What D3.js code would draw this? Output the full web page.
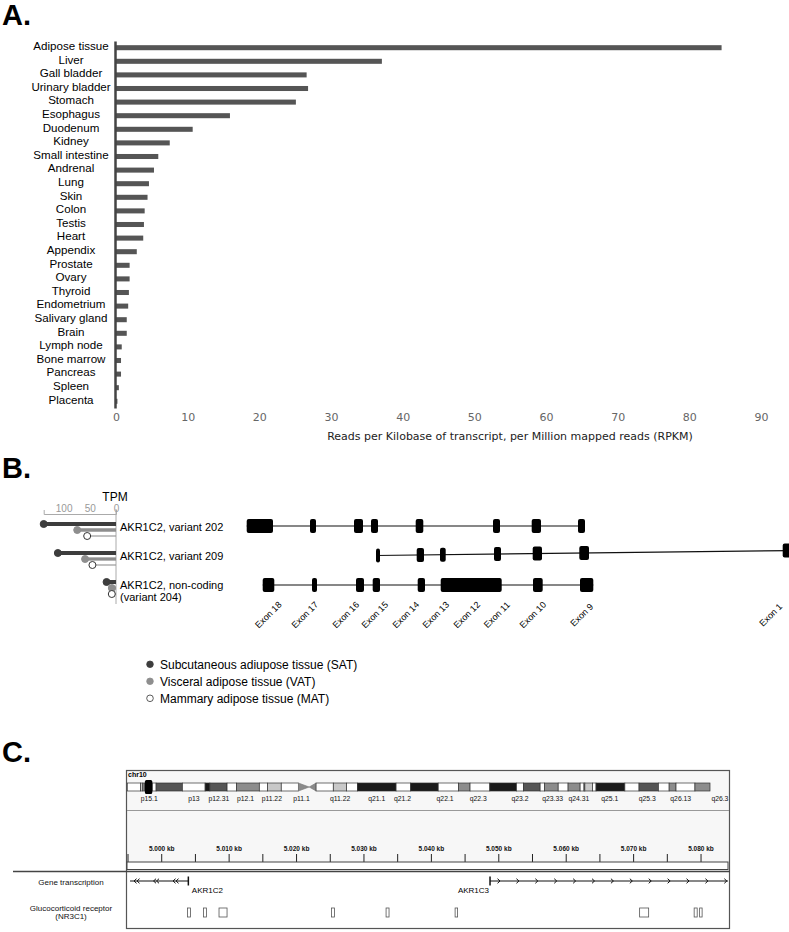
<!DOCTYPE html>
<html><head><meta charset="utf-8">
<script src="https://cdn.jsdelivr.net/npm/d3@7"></script>
<style>body{margin:0;background:#fff}svg{display:block}text{-webkit-font-smoothing:antialiased}</style>
</head><body><svg id="c" width="789" height="932"></svg>
<script>
// ---------- Panel A data ----------
const tissues = ["Adipose tissue","Liver","Gall bladder","Urinary bladder","Stomach","Esophagus","Duodenum","Kidney","Small intestine","Andrenal","Lung","Skin","Colon","Testis","Heart","Appendix","Prostate","Ovary","Thyroid","Endometrium","Salivary gland","Brain","Lymph node","Bone marrow","Pancreas","Spleen","Placenta"];
const rpkm = [84.5,37.1,26.6,26.8,25.1,15.9,10.7,7.5,5.9,5.3,4.6,4.4,4.0,3.9,3.8,2.9,1.9,1.9,1.8,1.7,1.5,1.5,0.8,0.7,0.7,0.4,0.2];
const rpkmTicks = [0,10,20,30,40,50,60,70,80,90];
const rpkmTitle = "Reads per Kilobase of transcript, per Million mapped reads (RPKM)";

// ---------- Panel B data ----------
const transcripts = ["AKR1C2, variant 202","AKR1C2, variant 209","AKR1C2, non-coding"];
const transcriptSub = ["","","(variant 204)"];
const tpmSAT = [138,111,18];
const tpmVAT = [74,59,8];
const tpmMAT = [55,45,8];
const tpmTicks = [0,50,100];
const adiposeGroups = ["Subcutaneous adiupose tissue (SAT)","Visceral adipose tissue (VAT)","Mammary adipose tissue (MAT)"];
// exon structure, relative transcript units
const exons202 = [[0.7,27],[64,70],[108,117],[125,132],[169.7,177.3],[247,254],[285.7,295],[332,339]];
const exons209 = [[130,134],[170.7,178],[194,199.7],[248,255],[286.7,296],[333.3,343],[536.7,546]];
const exons204 = [[16.7,28.3],[66,71],[110,118],[126.7,134],[171.7,179],[194.7,255.7],[287,296.7],[334,347.3]];
const exonLabels = ["Exon 18","Exon 17","Exon 16","Exon 15","Exon 14","Exon 13","Exon 12","Exon 11","Exon 10","Exon 9","Exon 1"];
const exonLabelPos = [24.5,61,102,131,162,192,223,253,289,338,527];

// ---------- Panel C data ----------
const bandEdges = [0,3.1,3.6,4.1,5.8,6.7,12.8,18.1,19.2,23.2,25.4,30.7,32.6,35.8,39.8,42.3,43.9,47.9,51.0,53.5,62.5,65.9,72.3,77.0,79.7,84.3,90.5,92.1,96.0,97.0,100.2,102.5,105.3,106.2,106.4,108.2,109.0,115.7,119.0,123.5,126.0,127.6,132.0,135.5];
const bandStains = ["gneg","gpos25","gpos50","gneg","gneg","gpos75","gneg","gpos100","gpos75","gneg","gpos50","gneg","gpos25","gneg","acen","acen","gneg","gpos25","gneg","gpos100","gneg","gpos100","gneg","gpos50","gneg","gpos100","gneg","gpos75","gneg","gpos50","gneg","gpos50","gneg","gpos50","gpos25","gneg","gpos100","gneg","gpos75","gneg","gpos50","gneg","gpos50"];
const bandLabels = ["p15.1","p13","p12.31","p12.1","p11.22","p11.1","q11.22","q21.1","q21.2","q22.1","q22.3","q23.2","q23.33","q24.31","q25.1","q25.3","q26.13","q26.3"];
const bandLabelPos = [5.1,15.5,21.3,27.5,33.6,40.5,49.5,58.0,64.0,73.9,81.6,91.3,98.9,105.0,112.2,120.9,128.7,137.8];
const viewRegionMb = [4.1,5.8];
const rulerMajor = [5000,5010,5020,5030,5040,5050,5060,5070,5080];
const rulerLabels = ["5.000 kb","5.010 kb","5.020 kb","5.030 kb","5.040 kb","5.050 kb","5.060 kb","5.070 kb","5.080 kb"];
const rulerMinor = [4995,5005,5015,5025,5035,5045,5055,5065,5075];
const geneNames = ["AKR1C2","AKR1C3"];
const geneStart = [4995.3,5048.7];
const geneEnd = [5003.95,5084.0];
const geneStrand = [-1,1];
const grStart = [5003.83,5006.20,5008.50,5025.19,5033.28,5043.52,5070.89,5078.98,5079.79];
const grEnd   = [5004.27,5006.65,5009.69,5025.64,5033.72,5043.89,5072.23,5079.43,5080.16];
const trackLabels = [["Gene transcription"],["Glucocorticoid receptor","(NR3C1)"]];

// ---------- drawing ----------
const FONT = '"Liberation Sans", Arial, Helvetica, sans-serif';
const svg = d3.select("#c").attr("font-family", FONT);

[["A.",25],["B.",478],["C.",762]].forEach(([t,y]) => {
  svg.append("text").attr("x",2).attr("y",y).attr("font-size",29).attr("font-weight","bold").text(t);
});

// ===== Panel A =====
const xA = d3.scaleLinear().domain([0,90]).range([116,761]);
const yA = d3.scaleBand().domain(tissues).range([40.9,408.1]).paddingInner(0.63).paddingOuter(0.315);
const gA = svg.append("g");
gA.selectAll("rect.bar").data(tissues).join("rect").attr("class","bar")
  .attr("x", xA(0)).attr("y", d => yA(d))
  .attr("width", (d,i) => xA(rpkm[i]) - xA(0)).attr("height", yA.bandwidth())
  .attr("fill", "#555");
const axYA = gA.append("g").attr("transform","translate(115,0)")
  .call(d3.axisLeft(yA).tickSize(0).tickSizeOuter(0));
axYA.select(".domain").attr("stroke","#444").attr("stroke-width",2.5);
axYA.selectAll("text").attr("x",-44).attr("text-anchor","middle").attr("dy","0.2em")
  .attr("font-size",11.6).attr("font-family",FONT).attr("fill","#000");
const axXA = gA.append("g").attr("transform","translate(0,409)")
  .call(d3.axisBottom(xA).tickValues(rpkmTicks).tickSize(0).tickPadding(4));
axXA.select(".domain").remove();
axXA.selectAll("text").attr("font-family","DejaVu Sans").attr("font-size",11).attr("fill","#666");
gA.append("text").attr("x",510).attr("y",440).attr("text-anchor","middle")
  .attr("font-family","DejaVu Sans").attr("font-size",11).attr("fill","#222").text(rpkmTitle);

// ===== Panel B =====
const xT = d3.scaleLinear().domain([0,138]).range([116,43.7]);
const yT = d3.scalePoint().domain(transcripts).range([524,582]);
const seriesOffset = [0,6,12];
svg.append("text").attr("x",115).attr("y",501).attr("text-anchor","middle").attr("font-size",12).text("TPM");
const axT = svg.append("g").attr("transform","translate(0,514)")
  .call(d3.axisTop(xT).tickValues(tpmTicks).tickSizeInner(0).tickSizeOuter(4).tickPadding(2));
axT.select(".domain").attr("stroke","#aaa");
axT.selectAll("text").attr("font-family",FONT).attr("font-size",10).attr("fill","#999");
svg.append("line").attr("x1",xT(0)).attr("x2",xT(0)).attr("y1",509).attr("y2",604).attr("stroke","#aaa");

const series = [
  {vals: tpmSAT, line:"#3d3d3d", lw:4, fill:"#3d3d3d", stroke:"#3d3d3d"},
  {vals: tpmVAT, line:"#8e8e8e", lw:3.3, fill:"#8e8e8e", stroke:"#8e8e8e"},
  {vals: tpmMAT, line:"#999", lw:1.2, fill:"#fff", stroke:"#333"}
];
const gL = svg.append("g");
series.slice().reverse().forEach((s) => {
  const si = series.indexOf(s);
  gL.selectAll(null).data(transcripts).join("line")
    .attr("x1",(d,i)=>xT(s.vals[i])).attr("x2",xT(0))
    .attr("y1",d=>yT(d)+seriesOffset[si]).attr("y2",d=>yT(d)+seriesOffset[si])
    .attr("stroke",s.line).attr("stroke-width",s.lw);
});
series.forEach((s,si) => {
  gL.selectAll(null).data(transcripts).join("circle")
    .attr("cx",(d,i)=>xT(s.vals[i])).attr("cy",d=>yT(d)+seriesOffset[si]).attr("r",3.5)
    .attr("fill",s.fill).attr("stroke",s.stroke).attr("stroke-width",1);
});
transcripts.forEach((t,i) => {
  const tx = svg.append("text").attr("x",120).attr("y",yT(t)+7).attr("font-size",11);
  tx.append("tspan").text(t);
  if (transcriptSub[i]) tx.append("tspan").attr("x",120).attr("dy",12).text(transcriptSub[i]);
});

// gene structures
const xE = d3.scaleLinear().domain([0,543]).range([246,789]);
const yE = d3.scalePoint().domain(transcripts).range([526,585]);
const exonSets = [exons202, exons209, exons204];
const tilt = [0,-5,0];
const gE = svg.append("g");
exonSets.forEach((ex,ri) => {
  const y0 = yE(transcripts[ri]);
  const u0 = ex[0][0], u1 = ex[ex.length-1][1];
  const yAt = u => y0 + tilt[ri]*(u-u0)/(u1-u0);
  gE.append("line").attr("x1",xE(u0)).attr("x2",xE(u1)).attr("y1",yAt(u0)).attr("y2",yAt(u1))
    .attr("stroke","#111").attr("stroke-width",1.2);
  gE.selectAll(null).data(ex).join("rect")
    .attr("x",d=>xE(d[0])).attr("width",d=>xE(d[1])-xE(d[0]))
    .attr("y",d=>yAt((d[0]+d[1])/2)-7).attr("height",14).attr("rx",2).attr("fill","#000");
});
gE.selectAll("text.ex").data(exonLabels).join("text").attr("class","ex")
  .attr("transform",(d,i)=>`translate(${xE(exonLabelPos[i])},617) rotate(-45)`)
  .attr("text-anchor","middle").attr("font-size",9).attr("fill","#000").text(d=>d);

// legend
adiposeGroups.forEach((g,i) => {
  const s = series[i];
  const cy = 664.3 + 17*i;
  svg.append("circle").attr("cx",150).attr("cy",cy).attr("r",3.3).attr("fill",s.fill).attr("stroke",s.stroke).attr("stroke-width",0.8);
  svg.append("text").attr("x",160).attr("y",cy+4.3).attr("font-size",12).text(g);
});

// ===== Panel C =====
const gC = svg.append("g");
gC.append("rect").attr("x",126.5).attr("y",770.5).attr("width",603).attr("height",101).attr("fill","#f7f7f7");
gC.append("rect").attr("x",126.5).attr("y",770.5).attr("width",603).attr("height",158).attr("fill","none").attr("stroke","#555").attr("stroke-width",1.2);
gC.append("line").attr("x1",127).attr("x2",729).attr("y1",810.5).attr("y2",810.5).attr("stroke","#999");
gC.append("line").attr("x1",13).attr("x2",730).attr("y1",871.5).attr("y2",871.5).attr("stroke","#444").attr("stroke-width",1.5);
gC.append("text").attr("x",128).attr("y",777).attr("font-size",7).attr("font-weight","bold").text("chr10");

const chrX = d3.scaleLinear().domain([0,135.5]).range([127.3,710]);
const stainColor = {gneg:"#fff",gpos25:"#c8c8c8",gpos50:"#8c8c8c",gpos75:"#555",gpos100:"#1a1a1a",acen:"#8a8a8a"};
const iT = 783, iB = 791, iM = 787;
const bands = bandStains.map((s,i)=>({s, a:bandEdges[i], b:bandEdges[i+1]}));
bands.forEach((bd,i) => {
  const x0 = chrX(bd.a), x1 = chrX(bd.b);
  if (bd.s === "acen") {
    const pArm = bandStains[i-1] !== "acen";
    const pts = pArm ? [[x0,iT],[x1,iM],[x0,iB]] : [[x1,iT],[x0,iM],[x1,iB]];
    gC.append("polygon").attr("points",pts.map(p=>p.join(",")).join(" ")).attr("fill",stainColor.acen).attr("stroke","#777").attr("stroke-width",0.6);
  } else {
    gC.append("rect").attr("x",x0).attr("y",iT).attr("width",x1-x0).attr("height",iB-iT)
      .attr("fill",stainColor[bd.s]).attr("stroke","#333").attr("stroke-width",0.7);
  }
});
gC.append("rect").attr("x",chrX(viewRegionMb[0])).attr("y",780).attr("width",chrX(viewRegionMb[1])-chrX(viewRegionMb[0])).attr("height",14)
  .attr("rx",1.5).attr("fill","#000");
gC.selectAll("text.band").data(bandLabels).join("text").attr("class","band")
  .attr("x",(d,i)=>chrX(bandLabelPos[i])).attr("y",801).attr("text-anchor","middle")
  .attr("font-size",6.8).attr("fill","#111").text(d=>d);

const xG = d3.scaleLinear().domain([4994.85,5084.0]).range([127,728]);
gC.selectAll("line.maj").data(rulerMajor.concat(rulerMinor)).join("line").attr("class","maj")
  .attr("x1",d=>xG(d)).attr("x2",d=>xG(d)).attr("y1",854).attr("y2",862).attr("stroke","#222").attr("stroke-width",1);
gC.selectAll("text.rul").data(rulerLabels).join("text").attr("class","rul")
  .attr("x",(d,i)=>xG(rulerMajor[i])).attr("y",850.5).attr("text-anchor","middle")
  .attr("font-size",6.5).attr("font-weight","bold").attr("fill","#111").text(d=>d);
gC.append("rect").attr("x",127).attr("y",862).attr("width",601).attr("height",7.5).attr("fill","#fff").attr("stroke","#444").attr("stroke-width",1);

// genes
const gy = 881;
geneNames.forEach((n,i) => {
  const x0 = xG(geneStart[i]), x1 = xG(geneEnd[i]);
  gC.append("line").attr("x1",x0).attr("x2",x1).attr("y1",gy).attr("y2",gy).attr("stroke","#111").attr("stroke-width",1);
  const tss = geneStrand[i] < 0 ? x1 : x0;
  gC.append("line").attr("x1",tss).attr("x2",tss).attr("y1",gy-4.5).attr("y2",gy+4.5).attr("stroke","#111").attr("stroke-width",1.5);
  if (geneStrand[i] < 0) {
    d3.range(x0+4, x1-8, 19.5).forEach(ax => {
      [0,3].forEach(o => gC.append("path").attr("d",`M${ax+o+2.5},${gy-2.3}L${ax+o},${gy}L${ax+o+2.5},${gy+2.3}`).attr("fill","none").attr("stroke","#111").attr("stroke-width",1));
    });
    gC.append("text").attr("x",x1+3.5).attr("y",893).attr("font-size",8).attr("fill","#000").text(n);
  } else {
    d3.range(x0+10, x1+1.5, 18.9).forEach(ax => {
      gC.append("path").attr("d",`M${ax-2.5},${gy-2.3}L${ax},${gy}L${ax-2.5},${gy+2.3}`).attr("fill","none").attr("stroke","#111").attr("stroke-width",1);
    });
    gC.append("text").attr("x",x0-1).attr("y",893).attr("text-anchor","end").attr("font-size",8).attr("fill","#000").text(n);
  }
});
// GR binding sites
gC.selectAll("rect.gr").data(grStart).join("rect").attr("class","gr")
  .attr("x",(d,i)=>xG(d)).attr("width",(d,i)=>xG(grEnd[i])-xG(d))
  .attr("y",908).attr("height",9).attr("fill","#fff").attr("stroke","#555").attr("stroke-width",0.8);
// track labels
const tlY = [[885],[910.5,918.5]];
trackLabels.forEach((lines,i) => lines.forEach((l,j) => {
  gC.append("text").attr("x",71).attr("y",tlY[i][j]).attr("text-anchor","middle").attr("font-size",8).attr("fill","#111").text(l);
}));
</script></body></html>
